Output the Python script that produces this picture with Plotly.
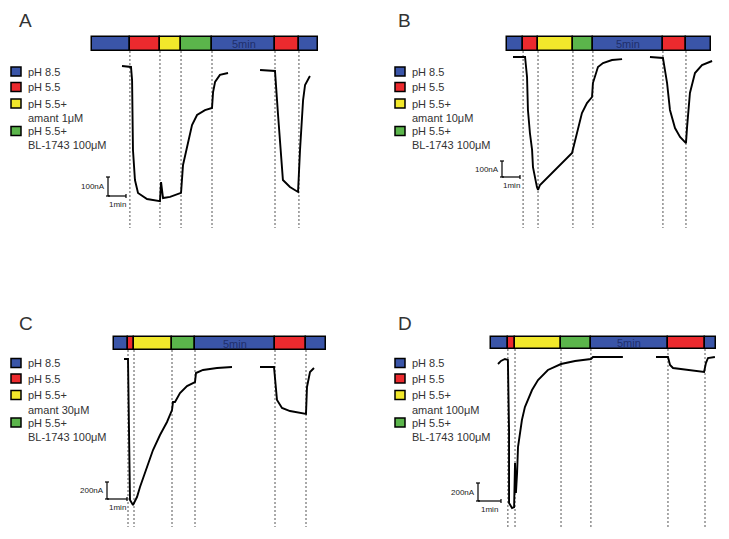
import plotly.graph_objects as go

W, H = 729, 539
PAD = 8            # default page margin of the html body
FW, FH = W - PAD, H - PAD

# solution sequence, same in all four recordings
solution_colors = ["#3a55a8", "#ec2a2e", "#f2e82b", "#5bb54b", "#3a55a8", "#ec2a2e", "#3a55a8"]
legend_colors = ["#3a55a8", "#ec2a2e", "#f2e82b", "#5bb54b"]
break_label = "5min"

# ---- A : amantadine 1 uM (time in min, current in nA, None = recording break) ----
a_time = [0, 0.50, 0.56, 0.61, 0.72, 0.89, 1.39, 2.11, 2.17, 2.28, 2.67, 3.28, 3.39, 3.61,
          3.89, 4.17, 4.61, 5.00, 5.06, 5.17, 5.44, 5.89, None,
          7.67, 8.50, 8.67, 8.89, 8.94, 9.33, 9.78, 9.89, 10.06, 10.17, 10.44]
a_current = [0, -5, -74, -442, -600, -668, -700, -711, -611, -695, -689, -668, -521, -426,
             -311, -258, -232, -221, -137, -84, -47, -37, None,
             -21, -26, -258, -563, -600, -637, -663, -442, -179, -100, -53]
a_switch = [-1.67, 0.44, 2.11, 3.28, 5.00, 8.50, 9.83, 10.89]

# ---- B : amantadine 10 uM ----
b_time = [0, 0.67, 0.78, 0.83, 0.94, 1.06, 1.11, 1.22, 1.33, 1.39, 1.50, 3.28, 3.56, 3.83,
          4.11, 4.39, 4.44, 4.56, 4.72, 5.00, 5.50, 6.06, None,
          7.61, 8.33, 8.44, 8.56, 8.72, 9.00, 9.28, 9.61, 9.67, 9.83, 10.11, 10.50, 11.06]
b_current = [0, 0, -125, -331, -475, -581, -688, -756, -813, -831, -800, -600, -475, -350,
             -288, -250, -163, -113, -63, -38, -19, -13, None,
             0, -6, -81, -163, -331, -444, -500, -538, -438, -225, -100, -50, -25]
b_switch = [-0.33, 0.56, 1.39, 3.33, 4.44, 8.33, 9.61, 11.00]

# ---- C : amantadine 30 uM ----
c_time = [0, 0.20, 0.25, 0.30, 0.45, 0.65, 0.80, 1.15, 1.45, 1.80, 2.15, 2.40, 2.45, 2.55,
          2.80, 3.15, 3.55, 3.60, 3.95, 4.65, 5.40, None,
          6.80, 7.50, 7.65, 7.90, 8.30, 9.10, 9.15, 9.30, 9.50]
c_current = [0, 0, -835, -1659, -1718, -1624, -1506, -1271, -1071, -894, -741, -600, -506, -506,
             -400, -318, -271, -165, -129, -106, -94, None,
             -94, -94, -482, -576, -612, -647, -329, -153, -106]
c_switch = [-0.50, 0.20, 0.50, 2.40, 3.55, 7.55, 9.10, 10.10]

# ---- D : amantadine 100 uM ----
d_time = [0, 0.13, 0.30, 0.43, 0.48, 0.48, 0.61, 0.70, 0.74, 0.78, 0.83, 0.87, 1.04, 1.17,
          1.48, 1.74, 2.17, 2.74, 3.35, 4.04, 4.13, 4.65, 5.43, None,
          6.87, 7.39, 7.48, 7.61, 8.96, 9.04, 9.13, 9.43]
d_current = [-78, -44, -22, -33, -811, -1622, -1678, -1667, -1178, -1511, -1289, -1000, -700, -556,
             -367, -256, -144, -78, -44, -22, 0, 0, 0, None,
             0, 0, -89, -122, -167, -67, -11, 0]
d_switch = [-0.30, 0.43, 0.74, 2.74, 4.04, 7.39, 9.00, 9.48]

# pixel geometry of each panel in the page (layout only)
panels = [
    dict(letter="A", time=a_time, current=a_current, switch=a_switch, amant="1μM", scale_nA=100,
         box=(PAD, PAD, 364, 260), origin=(122, 66), px_min=18, px_nA=19 / 100,
         bar=(37, 51), dash_end=228, scalebar=(108, 196), legend=(11, 71.5), letter_pos=(17, 20)),
    dict(letter="B", time=b_time, current=b_current, switch=b_switch, amant="10μM", scale_nA=100,
         box=(364, PAD, W, 260), origin=(513, 57), px_min=18, px_nA=16 / 100,
         bar=(37, 51), dash_end=228, scalebar=(502, 177), legend=(395, 71.5), letter_pos=(396, 20)),
    dict(letter="C", time=c_time, current=c_current, switch=c_switch, amant="30μM", scale_nA=200,
         box=(PAD, 260, 364, H), origin=(124, 359), px_min=20, px_nA=17 / 200,
         bar=(337, 350), dash_end=527, scalebar=(107, 499), legend=(11, 363), letter_pos=(17, 323)),
    dict(letter="D", time=d_time, current=d_current, switch=d_switch, amant="100μM", scale_nA=200,
         box=(364, 260, W, H), origin=(498, 357), px_min=23, px_nA=18 / 200,
         bar=(337, 349), dash_end=527, scalebar=(478, 501), legend=(395, 363), letter_pos=(396, 323)),
]


def paper_x(px):
    return (px - PAD) / FW


def paper_y(py):
    return 1 - (py - PAD) / FH


FONT = "Liberation Sans, Arial, sans-serif"
fig = go.Figure()
annotations = []
shapes = []
layout_axes = {}

for i, p in enumerate(panels):
    n = "" if i == 0 else str(i + 1)
    xa, ya = "x" + n, "y" + n
    x0, y0, x1, y1 = p["box"]
    ox, oy = p["origin"]

    def tx(px, p=p, ox=ox):
        return (px - ox) / p["px_min"]

    def iy(py, p=p, oy=oy):
        return (oy - py) / p["px_nA"]

    layout_axes["xaxis" + n] = dict(domain=[paper_x(x0), paper_x(x1)], range=[tx(x0), tx(x1)],
                                    visible=False, anchor=ya)
    layout_axes["yaxis" + n] = dict(domain=[paper_y(y1), paper_y(y0)], range=[iy(y1), iy(y0)],
                                    visible=False, anchor=xa)

    # solution bar
    sw = p["switch"]
    bt, bb = p["bar"]
    level = iy((bt + bb) / 2)
    fig.add_trace(go.Bar(
        orientation="h",
        base=sw[:-1],
        x=[b - a for a, b in zip(sw[:-1], sw[1:])],
        y=[level] * (len(sw) - 1),
        width=(bb - bt) / p["px_nA"],
        marker=dict(color=solution_colors, line=dict(color="black", width=1.5)),
        hoverinfo="skip", xaxis=xa, yaxis=ya,
    ))
    annotations.append(dict(
        x=(sw[4] + sw[5]) / 2, y=level, xref=xa, yref=ya, text=break_label,
        showarrow=False, font=dict(size=11, color="#1f2f6b", family=FONT),
    ))

    # dashed guides at every solution change
    gx, gy = [], []
    for s in sw[1:-1]:
        gx += [s, s, None]
        gy += [iy(bb), iy(p["dash_end"]), None]
    fig.add_trace(go.Scatter(x=gx, y=gy, mode="lines", hoverinfo="skip",
                             line=dict(color="#555555", width=1, dash="2px,2px"),
                             xaxis=xa, yaxis=ya))

    # current trace
    fig.add_trace(go.Scatter(x=p["time"], y=p["current"], mode="lines", connectgaps=False,
                             line=dict(color="black", width=1.9), hoverinfo="skip",
                             xaxis=xa, yaxis=ya))

    # scale bar: 1 min and scale_nA
    cx, cy = tx(p["scalebar"][0]), iy(p["scalebar"][1])
    capx = 2 / p["px_min"]
    capy = 2 / p["px_nA"]
    top = cy + p["scale_nA"]
    fig.add_trace(go.Scatter(
        x=[cx, cx, None, cx - capx, cx + capx, None, cx - capx, cx + capx, None, cx, cx + 1, None, cx + 1, cx + 1],
        y=[cy, top, None, top, top, None, cy, cy, None, cy, cy, None, cy - capy, cy + capy],
        mode="lines", line=dict(color="black", width=1.2), hoverinfo="skip",
        xaxis=xa, yaxis=ya))
    annotations.append(dict(x=tx(p["scalebar"][0] - 1), y=(cy + top) / 2, xref=xa, yref=ya,
                            text=f"{p['scale_nA']}nA", showarrow=False, xanchor="right",
                            font=dict(size=8, color="#222", family=FONT)))
    annotations.append(dict(x=cx + 0.5, y=iy(p["scalebar"][1] + 8), xref=xa, yref=ya,
                            text="1min", showarrow=False, xanchor="center",
                            font=dict(size=8, color="#222", family=FONT)))

    # panel letter
    lx, ly = p["letter_pos"]
    annotations.append(dict(x=paper_x(lx), y=paper_y(ly), xref="paper", yref="paper", text=p["letter"],
                            showarrow=False, xanchor="left", yanchor="middle",
                            font=dict(size=19, color="#333", family=FONT)))

    # legend
    lgx, lgy = p["legend"]
    labels = [["pH 8.5"], ["pH 5.5"], ["pH 5.5+", "amant " + p["amant"]], ["pH 5.5+", "BL-1743 100μM"]]
    offsets = [0, 15.5, 32, 59.5]
    for color, lines, off in zip(legend_colors, labels, offsets):
        yc = lgy + off
        shapes.append(dict(type="rect", xref="paper", yref="paper",
                           x0=paper_x(lgx), x1=paper_x(lgx + 10),
                           y0=paper_y(yc + 4.5), y1=paper_y(yc - 4.5),
                           fillcolor=color, line=dict(color="black", width=1.5)))
        for k, line in enumerate(lines):
            annotations.append(dict(x=paper_x(lgx + 15), y=paper_y(yc + 14.5 * k),
                                    xref="paper", yref="paper", text=line, showarrow=False,
                                    xanchor="left", yanchor="middle",
                                    font=dict(size=11, color="#333", family=FONT)))

fig.update_layout(
    width=FW, height=FH,
    margin=dict(l=0, r=0, t=0, b=0),
    paper_bgcolor="white", plot_bgcolor="rgba(0,0,0,0)",
    showlegend=False, bargap=0,
    annotations=annotations, shapes=shapes,
    **layout_axes,
)

fig.write_html("out.html")
